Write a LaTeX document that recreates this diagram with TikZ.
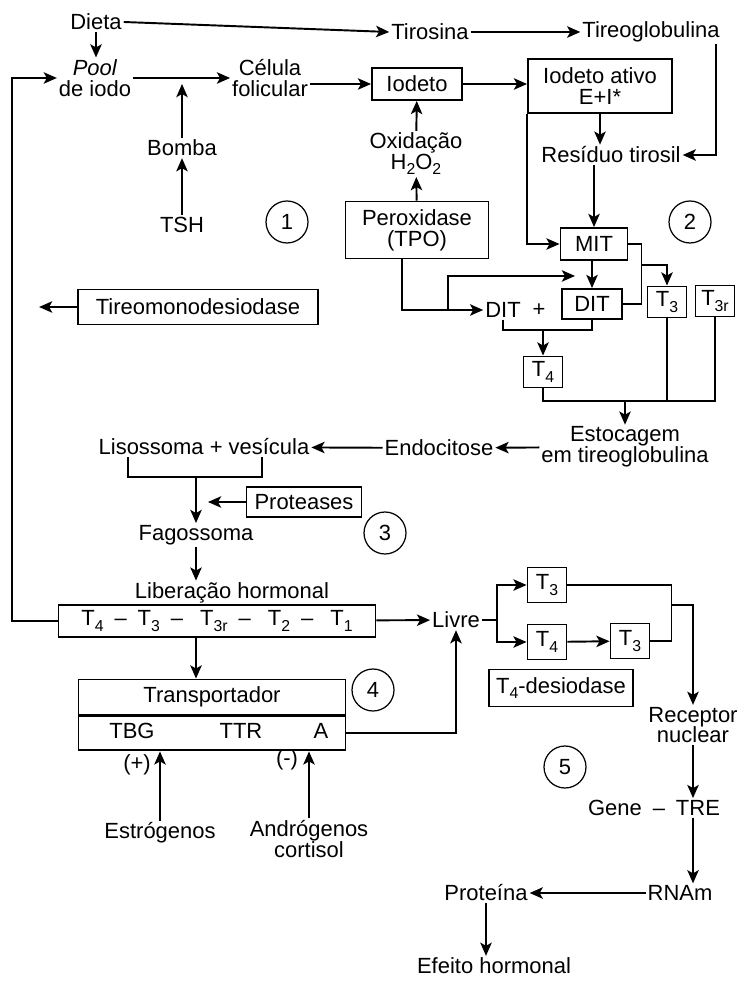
\documentclass[tikz,border=0pt]{standalone}
\usepackage{fontspec}
\setmainfont{Liberation Sans}
\usepackage{tikz}
\usetikzlibrary{arrows.meta,positioning,calc}
\newcommand{\tsub}[1]{\raisebox{-0.45ex}{\fontsize{9}{9}\selectfont #1}}

\begin{document}
\begin{tikzpicture}[
  x=0.02cm,y=-0.02cm,
  font=\fontsize{12.5}{11.8}\selectfont,
  lbl/.style={align=center,inner sep=1pt},
  box/.style={draw,line width=1.1pt,align=center,inner sep=2pt},
  numc/.style={draw,circle,line width=0.7pt,minimum size=0.84cm,inner sep=0pt},
  tbox/.style={box,minimum width=0.78cm,minimum height=0.62cm},
  ln/.style={line width=1.1pt},
  arr/.style={-{Stealth[length=7.5pt,width=6.5pt,inset=1.8pt]},line width=1.1pt}
]
\useasboundingbox (0,0) rectangle (743,982);

\node[lbl] (dieta) at (96,22) {Dieta};
\node[lbl] (tiros) at (430,32) {Tirosina};
\node[lbl] (tgb) at (651,32) {Tireoglobulina};
\node[lbl] (pool) at (95,78) {\textit{Pool}\\de iodo};
\node[lbl] (cel) at (270,78) {Célula\\folicular};
\node[lbl] (bomba) at (182,148) {Bomba};
\node[lbl] (tsh) at (182,225) {TSH};
\node[numc] (c1) at (287,222) {1};
\node[box,minimum width=1.8cm,minimum height=0.64cm] (iodeto) at (417,84) {Iodeto};
\node[box,minimum width=2.88cm,minimum height=1.08cm] (ativo) at (600,86)
  {Iodeto ativo\\E+I*};
\node[lbl] (oxid) at (416,154) {Oxidação\\H\tsub{2}O\tsub{2}};
\node[box,minimum width=2.86cm,minimum height=1.14cm] (perox) at (417,230)
  {Peroxidase\\(TPO)};
\node[lbl] (resid) at (611,155) {Resíduo tirosil};
\node[box,minimum width=1.34cm,minimum height=0.64cm] (mit) at (594,244) {MIT};
\node[numc] (c2) at (690,222) {2};
\node[box,minimum width=1.2cm,minimum height=0.6cm] (dit) at (592,304) {DIT};
\node[lbl] (ditt) at (503,310) {DIT};
\node[lbl] (plus) at (539,310) {+};
\node[tbox] (tfour) at (543,372) {T\tsub{4}};
\node[tbox] (tthree) at (667,302) {T\tsub{3}};
\node[tbox] (tthreer) at (715,301) {T\tsub{3r}};
\node[box,minimum width=4.8cm,minimum height=0.7cm] (desio) at (198,307)
  {Tireomonodesiodase};

\node[lbl] (estoc) at (625,447) {Estocagem\\em tireoglobulina};
\node[lbl] (endo) at (439,448) {Endocitose};
\node[lbl] (liso) at (204,447) {Lisossoma + vesícula};
\node[box,minimum width=2.3cm,minimum height=0.6cm] (prot) at (304,502) {Proteases};
\node[numc] (c3) at (385,533) {3};
\node[lbl] (fago) at (196,535) {Fagossoma};
\node[lbl] (liber) at (232,593) {Liberação hormonal};
\node[box,minimum width=6.34cm,minimum height=0.64cm] (chain) at (217,621)
  {T\tsub{4}\enspace--\enspace T\tsub{3}\enspace--\enspace\ T\tsub{3r}\enspace--\enspace\ T\tsub{2}\enspace--\enspace\ T\tsub{1}};
\node[lbl] (livre) at (456,620) {Livre};

\node[box,minimum width=5.34cm,minimum height=0.7cm] (transp) at (212,697) {Transportador};
\node[box,minimum width=5.34cm,minimum height=0.68cm,anchor=north] (transb)
  at (transp.south) {};
\node[lbl] (tbg) at (132,731) {TBG};
\node[lbl] (ttr) at (241,731) {TTR};
\node[lbl] (abox) at (321,731) {A};
\node[numc] (c4) at (373,690) {4};
\node[lbl] (plusl) at (137,765) {(+)};
\node[lbl] (minusl) at (287,760) {(-)};
\node[lbl] (estrog) at (160,833) {Estrógenos};
\node[lbl] (andro) at (309,839) {Andrógenos\\cortisol};

\node[tbox,minimum height=0.7cm] (tthreea) at (547,585) {T\tsub{3}};
\node[tbox,minimum height=0.7cm] (tfoura) at (547,642) {T\tsub{4}};
\node[tbox,minimum height=0.7cm] (tthreeb) at (630,641) {T\tsub{3}};
\node[box,minimum width=2.88cm,minimum height=0.74cm] (tdes) at (561,688)
  {T\tsub{4}-desiodase};
\node[lbl] (recep) at (693,725) {Receptor\\nuclear};
\node[numc] (c5) at (565,767) {5};
\node[lbl] (gene) at (654,808) {Gene\enspace--\enspace TRE};
\node[lbl] (rnam) at (680,893) {RNAm};
\node[lbl] (protn) at (486,893) {Proteína};
\node[lbl] (efeito) at (494,966) {Efeito hormonal};

% sintese
\draw[arr] (dieta.east) -- (tiros.west);
\draw[arr] (tiros) -- (tgb);
\draw[arr] (dieta) -- (dieta |- pool.north);
\draw[arr] (pool) -- (cel);
\draw[arr] (bomba) -- ($(bomba |- cel)+(0,6)$);
\draw[arr] (tsh) -- (bomba);
\draw[arr] (cel.east |- iodeto) -- (iodeto.west);
\draw[arr] (iodeto.east) -- (iodeto.east -| ativo.west);
\draw[arr] (perox) -- (oxid);
\draw[arr] (oxid) -- (iodeto);
\draw[arr] (ativo.south) -- (ativo.south |- resid.north);
\draw[arr] ($(tgb.south east)+(-6,0)$) |- (resid.east);
\draw[arr] (resid.south -| mit) -- (mit);
\draw[arr] (ativo.south west) |- (mit.west);
\draw[arr] (mit.south -| dit) -- (dit.north);

\coordinate (pb) at ($(perox.south)+(-15,0)$);
\coordinate (br) at ($(pb |- ditt.west)+(46,0)$);
\coordinate (dj) at ($(mit.south -| dit)+(-17,15)$);
\draw[arr] (pb) |- (ditt.west);
\draw[arr] (br) |- (dj);

\coordinate (dj2) at ($(ditt.south)+(0,10)$);
\draw[ln] (ditt.south) -- (dj2) -| (dit.south);
\draw[arr] (dj2 -| tfour) -- (tfour);

\coordinate (mj) at ($(mit.east)+(13,0)$);
\draw[ln] (mit.east) -- (mj) |- (dit.east);
\draw[arr] ($(mj)+(0,21)$) -| (tthree);

\coordinate (st) at ($(tfour.south)+(0,13)$);
\draw[ln] (tfour.south) -- (st) -- (st -| tthreer) -- (tthreer.south);
\draw[ln] (tthree.south) -- (tthree.south |- st);
\draw[arr] (st -| estoc) -- (estoc);

\coordinate (dout) at ($(desio.west)+(-38,0)$);
\draw[arr] (desio) -- (dout);

% liberacao
\draw[arr] (estoc) -- (endo);
\draw[arr] (endo) -- (liso);
\coordinate (lb) at ($(liso.south)+(0,20)$);
\draw[ln] ($(liso.south west)+(31,0)$) |- ($(liso.south east)+(-49,20)$)
  -- ($(liso.south east)+(-49,0)$);
\draw[arr] (lb -| fago) -- (fago);
\draw[arr] (prot.west) -- ($(prot.west -| fago)+(12,0)$);
\draw[arr] (fago) -- (fago |- liber.north);
\draw[arr] (chain.west) -- ++(-46,0) |- (pool.west);
\draw[arr] (chain) -- (livre);
\draw[arr] (chain.south -| fago) -- (fago |- transp.north);
\draw[arr] (transb.east) -| (livre.south);
\draw[arr] (estrog) -- (estrog |- transb.south);
\draw[arr] (andro) -- (andro |- transb.south);

% acao
\coordinate (lv) at ($(livre.east)+(15,0)$);
\draw[ln] (livre.east) -- (lv);
\draw[arr] (lv) |- (tthreea.west);
\draw[arr] (lv) |- (tfoura.west);
\draw[arr] (tfoura) -- (tthreeb);
\coordinate (rj) at ($(tthreeb.east)+(21,0)$);
\draw[ln] (tthreea.east) -| (rj) -- (tthreeb.east);
\draw[arr] ($(rj)+(0,-36)$) -| (recep);
\draw[arr] (recep) -- (recep |- gene.north);
\draw[arr] (gene.south -| recep) -- (recep |- rnam.north);
\draw[arr] (rnam) -- (protn);
\draw[arr] (protn) -- (protn |- efeito.north);
\end{tikzpicture}
\end{document}
